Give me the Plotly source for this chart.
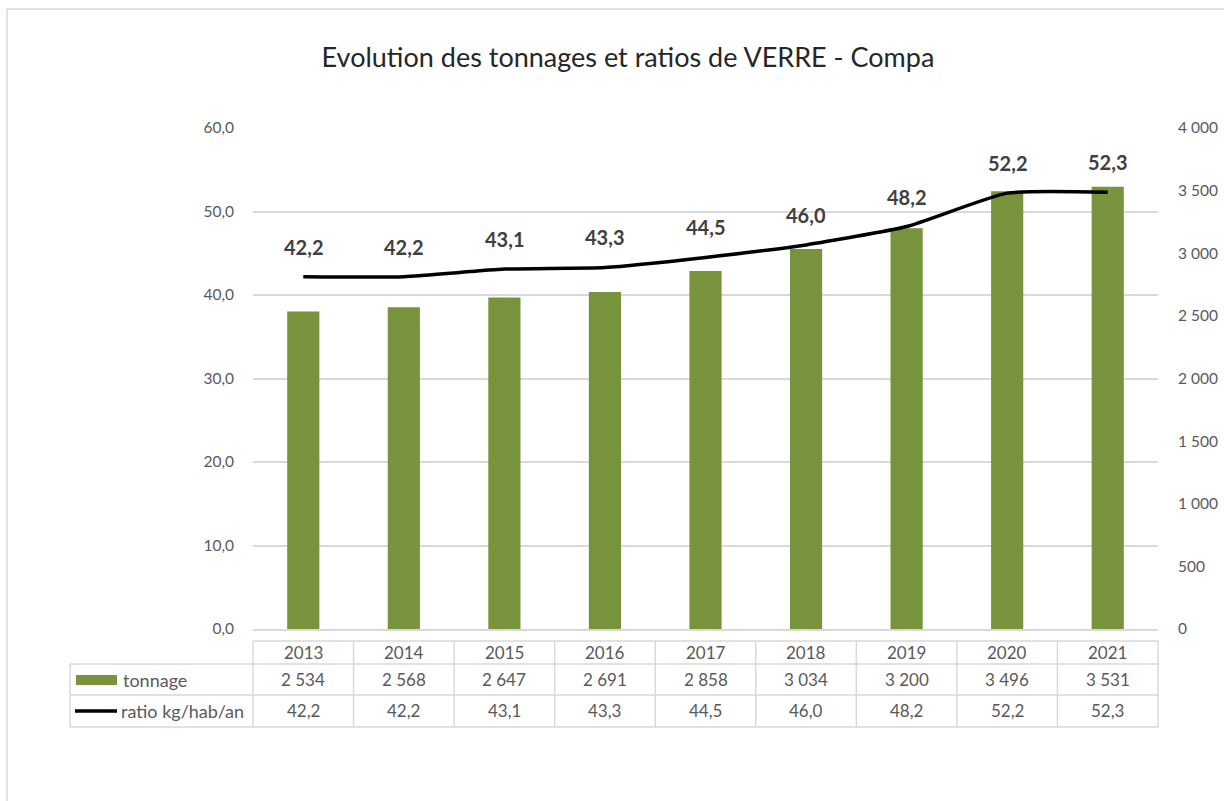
import plotly.graph_objects as go

years = ["2013", "2014", "2015", "2016", "2017", "2018", "2019", "2020", "2021"]
tonnage = [2534, 2568, 2647, 2691, 2858, 3034, 3200, 3496, 3531]
ratio = [42.2, 42.2, 43.1, 43.3, 44.5, 46.0, 48.2, 52.2, 52.3]

W, H = 1224, 801
L, R, T, B = 253, 1158, 128, 629

def px(x):
    return (x - L) / (R - L)

def py(y):
    return (B - y) / (B - T)

def fmt_int(v):
    return f"{v:,}".replace(",", " ")

def fmt_dec(v):
    return f"{v:.1f}".replace(".", ",")

FONT = "Lato"
GRAY = "#595959"
GRID = "#D9D9D9"
GREEN = "#77933C"

fig = go.Figure()
fig.add_trace(go.Bar(x=list(range(len(years))), y=tonnage, name="tonnage",
                     marker=dict(color=GREEN, line=dict(width=0)), width=0.32,
                     yaxis="y", hoverinfo="skip"))
fig.add_trace(go.Scatter(x=list(range(len(years))), y=ratio, name="ratio kg/hab/an",
                         mode="lines", line=dict(color="black", width=3.5, shape="spline", smoothing=0.5),
                         yaxis="y2", hoverinfo="skip"))

annotations = []
for i, v in enumerate(ratio):
    annotations.append(dict(x=i, y=v, xref="x", yref="y2", text=f"<b>{fmt_dec(v)}</b>",
                            showarrow=False, yshift=30, xanchor="center", yanchor="middle",
                            font=dict(family=FONT, size=20, color="#404040")))

shapes = []
# outer chart border (top and left edges visible)
border = dict(color="#D9D9D9", width=1.5)
shapes.append(dict(type="line", xref="paper", yref="paper", x0=px(7), x1=px(W),
                   y0=py(9), y1=py(9), line=border, layer="below"))
shapes.append(dict(type="line", xref="paper", yref="paper", x0=px(7), x1=px(7),
                   y0=py(9), y1=py(H), line=border, layer="below"))

# data table
row_y = [641, 664, 695, 727]
tline = dict(color=GRID, width=1.5)
n = len(years)
shapes.append(dict(type="line", xref="paper", yref="paper", x0=0, x1=1,
                   y0=py(row_y[0]), y1=py(row_y[0]), line=tline))
for yy in row_y[1:]:
    shapes.append(dict(type="line", xref="paper", yref="paper", x0=px(70), x1=1,
                       y0=py(yy), y1=py(yy), line=tline))
for i in range(n + 1):
    xx = i / n
    shapes.append(dict(type="line", xref="paper", yref="paper", x0=xx, x1=xx,
                       y0=py(row_y[0]), y1=py(row_y[3]), line=tline))
shapes.append(dict(type="line", xref="paper", yref="paper", x0=px(70), x1=px(70),
                   y0=py(row_y[1]), y1=py(row_y[3]), line=tline))
# legend keys
shapes.append(dict(type="rect", xref="paper", yref="paper", x0=px(76), x1=px(117),
                   y0=py(685), y1=py(675), fillcolor=GREEN, line=dict(width=0)))
shapes.append(dict(type="line", xref="paper", yref="paper", x0=px(75), x1=px(117),
                   y0=py(711), y1=py(711), line=dict(color="black", width=3.5)))

tfont = dict(family=FONT, size=17, color=GRAY)
lfont = dict(family=FONT, size=18, color=GRAY)
for i in range(n):
    xc = (i + 0.5) / n
    for row, txt in ((0, years[i]), (1, fmt_int(tonnage[i])), (2, fmt_dec(ratio[i]))):
        annotations.append(dict(x=xc, y=py((row_y[row] + row_y[row + 1]) / 2), xref="paper", yref="paper",
                                xanchor="center", yanchor="middle",
                                text=txt, showarrow=False, font=tfont))
annotations.append(dict(x=px(121), y=py((row_y[1] + row_y[2]) / 2), xref="paper", yref="paper",
                        xanchor="left", yanchor="middle", text="tonnage", showarrow=False, font=lfont))
annotations.append(dict(x=px(119), y=py((row_y[2] + row_y[3]) / 2), xref="paper", yref="paper",
                        xanchor="left", yanchor="middle", text="ratio kg/hab/an", showarrow=False, font=lfont))

fig.update_layout(
    width=W, height=H,
    margin=dict(l=L, r=W - R, t=T, b=H - B, pad=0, autoexpand=False),
    paper_bgcolor="white", plot_bgcolor="white",
    separators=", ",
    showlegend=False,
    title=dict(text="Evolution des tonnages et ratios de VERRE - Compa",
               x=628 / W, xanchor="center", y=1 - 58 / H, yanchor="middle",
               font=dict(family=FONT, size=27, color="#262626")),
    font=dict(family=FONT, color=GRAY),
    xaxis=dict(range=[-0.5, n - 0.5], showticklabels=False, showgrid=False, zeroline=False,
               showline=True, linecolor=GRID, linewidth=1.5, ticks=""),
    yaxis=dict(side="right", range=[0, 4000], dtick=500, tickformat=",d", showgrid=False,
               zeroline=False, showline=False, ticks="", ticklabelstandoff=19,
               tickfont=dict(family=FONT, size=15.5, color=GRAY)),
    yaxis2=dict(side="left", overlaying="y", range=[0, 60], dtick=10, tickformat=".1f",
                showgrid=True, gridcolor=GRID, gridwidth=1.5, zeroline=False, showline=False,
                ticks="", ticklabelstandoff=18,
                tickfont=dict(family=FONT, size=15.5, color=GRAY)),
    shapes=shapes,
    annotations=annotations,
)

fig.write_html("out.html", config={"displayModeBar": False},
               post_script="document.body.style.margin='0';document.body.style.overflow='hidden';")
